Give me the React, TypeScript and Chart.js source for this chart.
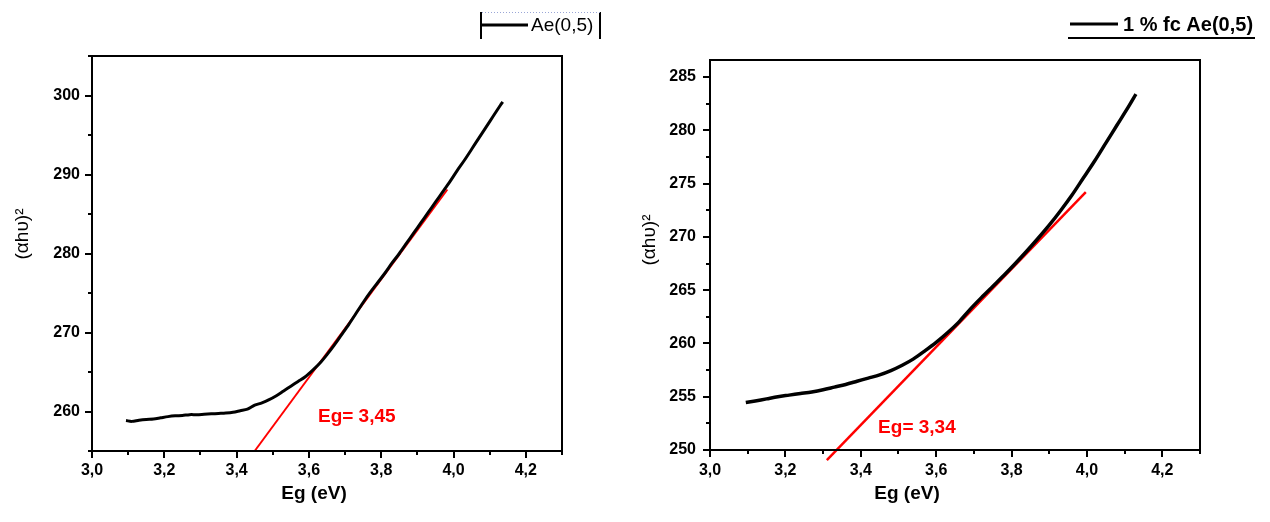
import React, { useEffect, useRef } from "react";
import { Chart, registerables } from "chart.js";

Chart.register(...registerables);

// ---------- data ----------
const leftEg = [
  3.094, 3.11, 3.13, 3.15, 3.17, 3.19, 3.21, 3.23, 3.25, 3.27, 3.29, 3.31, 3.33, 3.35, 3.37, 3.39,
  3.41, 3.43, 3.45, 3.47, 3.49, 3.51, 3.53, 3.55, 3.57, 3.59, 3.61, 3.63, 3.65, 3.67, 3.69, 3.71,
  3.73, 3.75, 3.77, 3.79, 3.81, 3.83, 3.85, 3.87, 3.89, 3.91, 3.93, 3.95, 3.97, 3.99, 4.01, 4.03,
  4.05, 4.07, 4.09, 4.11, 4.13, 4.136,
];
const leftAbs = [
  258.85, 258.75, 258.9, 259.0, 259.05, 259.2, 259.35, 259.45, 259.5, 259.6, 259.6, 259.65, 259.7, 259.75, 259.8, 259.9,
  260.1, 260.3, 260.8, 261.1, 261.5, 262.0, 262.6, 263.2, 263.8, 264.4, 265.2, 266.1, 267.2, 268.4, 269.7, 271.0,
  272.4, 273.8, 275.1, 276.3, 277.5, 278.8, 280.0, 281.3, 282.6, 283.9, 285.2, 286.5, 287.8, 289.1, 290.5, 291.8,
  293.2, 294.6, 296.0, 297.4, 298.8, 299.2,
];
const leftFitEg = [3.45, 3.983];
const leftFitAbs = [255.0, 288.1];

const rightEg = [
  3.095, 3.12, 3.15, 3.18, 3.21, 3.24, 3.27, 3.3, 3.33, 3.36, 3.39, 3.42, 3.45, 3.48, 3.51, 3.54,
  3.57, 3.6, 3.63, 3.66, 3.69, 3.72, 3.75, 3.78, 3.81, 3.84, 3.87, 3.9, 3.93, 3.96, 3.99, 4.02,
  4.05, 4.08, 4.11, 4.13,
];
const rightAbs = [
  254.45, 254.6, 254.8, 255.0, 255.15, 255.3, 255.45, 255.65, 255.9, 256.15, 256.45, 256.75, 257.05, 257.45, 257.95, 258.55,
  259.3, 260.1, 261.0, 262.0, 263.2, 264.3, 265.35, 266.4, 267.5, 268.65, 269.85, 271.1, 272.45, 273.9, 275.5, 277.1,
  278.8, 280.5, 282.2, 283.4,
];
const rightFitEg = [3.31, 3.997];
const rightFitAbs = [249.06, 274.2];

const xMajorTicks = [3.0, 3.2, 3.4, 3.6, 3.8, 4.0, 4.2];
const xMinorTicks = [3.1, 3.3, 3.5, 3.7, 3.9, 4.1, 4.3];
const leftYMajor = [260, 270, 280, 290, 300];
const leftYMinor = [255, 265, 275, 285, 295, 305];
const rightYMajor = [250, 255, 260, 265, 270, 275, 280, 285];
const rightYMinor = [252.5, 257.5, 262.5, 267.5, 272.5, 277.5, 282.5];

const xTitle = "Eg (eV)";
const yTitle = "(αhυ)²";
const leftLegend = "Ae(0,5)";
const rightLegend = "1 % fc Ae(0,5)";
const leftEgLabel = "Eg= 3,45";
const rightEgLabel = "Eg= 3,34";
const leftEgLabelPos = [3.625, 259.3];
const rightEgLabelPos = [3.446, 252.06];

const FONT = "Arial, 'Liberation Sans', sans-serif";

type Spec = {
  eg: number[];
  abs: number[];
  fitEg: number[];
  fitAbs: number[];
  yMin: number;
  yMax: number;
  yMajor: number[];
  yMinor: number[];
  curveWidth: number;
  fitWidth: number;
  yAxisWidth: number;
  xAxisHeight: number;
  padTop: number;
  padRight: number;
  yPad: number;
  xPad: number;
  label: string;
  labelPos: number[];
  xTitleX: number;
  yTitleX: number;
  yTitleY: number;
  legend: (ctx: CanvasRenderingContext2D) => void;
};

function makeChart(canvas: HTMLCanvasElement, s: Spec) {
  const decor = {
    id: "decor",
    afterDraw(chart: any) {
      const ctx: CanvasRenderingContext2D = chart.ctx;
      const a = chart.chartArea;
      const xs = chart.scales.x;
      const ys = chart.scales.y;
      ctx.save();
      ctx.strokeStyle = "#000";
      ctx.lineWidth = 2;
      ctx.strokeRect(a.left, a.top, a.right - a.left, a.bottom - a.top);
      ctx.lineWidth = 2;
      ctx.beginPath();
      xMajorTicks.forEach((v) => {
        const p = Math.round(xs.getPixelForValue(v));
        ctx.moveTo(p, a.bottom);
        ctx.lineTo(p, a.bottom + 7);
      });
      xMinorTicks.forEach((v) => {
        const p = Math.round(xs.getPixelForValue(v));
        ctx.moveTo(p, a.bottom);
        ctx.lineTo(p, a.bottom + 4);
      });
      s.yMajor.forEach((v) => {
        const p = Math.round(ys.getPixelForValue(v));
        ctx.moveTo(a.left, p);
        ctx.lineTo(a.left - 7, p);
      });
      s.yMinor.forEach((v) => {
        const p = Math.round(ys.getPixelForValue(v));
        ctx.moveTo(a.left, p);
        ctx.lineTo(a.left - 4, p);
      });
      ctx.stroke();

      // red Eg label
      ctx.fillStyle = "#ff0000";
      ctx.font = `bold 19px ${FONT}`;
      ctx.textAlign = "left";
      ctx.textBaseline = "middle";
      ctx.fillText(s.label, xs.getPixelForValue(s.labelPos[0]), ys.getPixelForValue(s.labelPos[1]));

      // axis titles
      ctx.fillStyle = "#000";
      ctx.font = `bold 19px ${FONT}`;
      ctx.textAlign = "center";
      ctx.fillText(xTitle, s.xTitleX, 494);
      ctx.save();
      ctx.translate(s.yTitleX, s.yTitleY);
      ctx.rotate(-Math.PI / 2);
      ctx.font = `19px ${FONT}`;
      ctx.fillText(yTitle, 0, 0);
      ctx.restore();

      s.legend(ctx);
      ctx.restore();
    },
  };

  return new Chart(canvas, {
    type: "scatter",
    data: {
      datasets: [
        {
          data: s.eg.map((x, i) => ({ x, y: s.abs[i] })),
          showLine: true,
          borderColor: "#000",
          backgroundColor: "#000",
          borderWidth: s.curveWidth,
          pointRadius: 0,
          tension: 0.3,
        },
        {
          data: s.fitEg.map((x, i) => ({ x, y: s.fitAbs[i] })),
          showLine: true,
          borderColor: "#ff0000",
          backgroundColor: "#ff0000",
          borderWidth: s.fitWidth,
          pointRadius: 0,
          clip: false,
        } as any,
      ],
    },
    options: {
      animation: false,
      responsive: false,
      devicePixelRatio: 1,
      layout: { padding: { left: 0, top: s.padTop, right: s.padRight, bottom: 0 } },
      plugins: { legend: { display: false }, tooltip: { enabled: false } },
      scales: {
        x: {
          type: "linear",
          min: 3.0,
          max: 4.3,
          grid: { display: false, drawTicks: false },
          border: { display: false },
          afterBuildTicks: (sc: any) => {
            sc.ticks = xMajorTicks.map((v) => ({ value: v }));
          },
          afterFit: (sc: any) => {
            sc.height = s.xAxisHeight;
          },
          ticks: {
            padding: s.xPad,
            color: "#000",
            maxRotation: 0,
            autoSkip: false,
            font: { family: FONT, size: 16, weight: "bold" },
            callback: (v: any) => Number(v).toFixed(1).replace(".", ","),
          },
        },
        y: {
          type: "linear",
          min: s.yMin,
          max: s.yMax,
          grid: { display: false, drawTicks: false },
          border: { display: false },
          afterBuildTicks: (sc: any) => {
            sc.ticks = s.yMajor.map((v) => ({ value: v }));
          },
          afterFit: (sc: any) => {
            sc.width = s.yAxisWidth;
          },
          ticks: {
            padding: s.yPad,
            color: "#000",
            autoSkip: false,
            font: { family: FONT, size: 16, weight: "bold" },
            callback: (v: any) => String(v),
          },
        },
      },
    } as any,
    plugins: [decor],
  });
}

const leftSpec: Spec = {
  eg: leftEg,
  abs: leftAbs,
  fitEg: leftFitEg,
  fitAbs: leftFitAbs,
  yMin: 255,
  yMax: 305,
  yMajor: leftYMajor,
  yMinor: leftYMinor,
  curveWidth: 3,
  fitWidth: 2,
  yAxisWidth: 92,
  xAxisHeight: 71,
  padTop: 56,
  padRight: 73,
  yPad: 12,
  xPad: 10,
  label: leftEgLabel,
  labelPos: leftEgLabelPos,
  xTitleX: 314,
  yTitleX: 23,
  yTitleY: 234,
  legend: (ctx) => {
    ctx.strokeStyle = "#000";
    ctx.lineWidth = 2;
    ctx.beginPath();
    ctx.moveTo(481, 12);
    ctx.lineTo(481, 39);
    ctx.moveTo(600, 12);
    ctx.lineTo(600, 39);
    ctx.stroke();
    ctx.save();
    ctx.strokeStyle = "#9aa6d6";
    ctx.lineWidth = 1;
    ctx.setLineDash([1, 2]);
    ctx.beginPath();
    ctx.moveTo(482, 12.5);
    ctx.lineTo(600, 12.5);
    ctx.stroke();
    ctx.restore();
    ctx.lineWidth = 3;
    ctx.beginPath();
    ctx.moveTo(482, 25);
    ctx.lineTo(528, 25);
    ctx.stroke();
    ctx.fillStyle = "#000";
    ctx.font = `19px ${FONT}`;
    ctx.textAlign = "left";
    ctx.textBaseline = "middle";
    ctx.fillText(leftLegend, 531, 26);
  },
};

const rightSpec: Spec = {
  eg: rightEg,
  abs: rightAbs,
  fitEg: rightFitEg,
  fitAbs: rightFitAbs,
  yMin: 250,
  yMax: 286.6,
  yMajor: rightYMajor,
  yMinor: rightYMinor,
  curveWidth: 3.5,
  fitWidth: 2.5,
  yAxisWidth: 75,
  xAxisHeight: 72,
  padTop: 60,
  padRight: 70,
  yPad: 14,
  xPad: 11,
  label: rightEgLabel,
  labelPos: rightEgLabelPos,
  xTitleX: 272,
  yTitleX: 15,
  yTitleY: 240,
  legend: (ctx) => {
    ctx.strokeStyle = "#000";
    ctx.lineWidth = 3;
    ctx.beginPath();
    ctx.moveTo(435, 24);
    ctx.lineTo(483, 24);
    ctx.stroke();
    ctx.lineWidth = 2;
    ctx.beginPath();
    ctx.moveTo(433, 38);
    ctx.lineTo(620, 38);
    ctx.stroke();
    ctx.fillStyle = "#000";
    ctx.font = `bold 20px ${FONT}`;
    ctx.textAlign = "left";
    ctx.textBaseline = "middle";
    ctx.fillText(rightLegend, 488, 25);
  },
};

function Panel({ spec, left }: { spec: Spec; left: number }) {
  const ref = useRef<HTMLCanvasElement | null>(null);
  useEffect(() => {
    if (!ref.current) return;
    const chart = makeChart(ref.current, spec);
    return () => chart.destroy();
  }, [spec]);
  return (
    <canvas
      ref={ref}
      width={635}
      height={522}
      style={{ position: "absolute", left, top: 0, width: 635, height: 522 }}
    />
  );
}

export default function App() {
  return (
    <div
      style={{
        position: "fixed",
        left: 0,
        top: 0,
        width: 1270,
        height: 522,
        background: "#fff",
        overflow: "hidden",
      }}
    >
      <Panel spec={leftSpec} left={0} />
      <Panel spec={rightSpec} left={635} />
    </div>
  );
}
